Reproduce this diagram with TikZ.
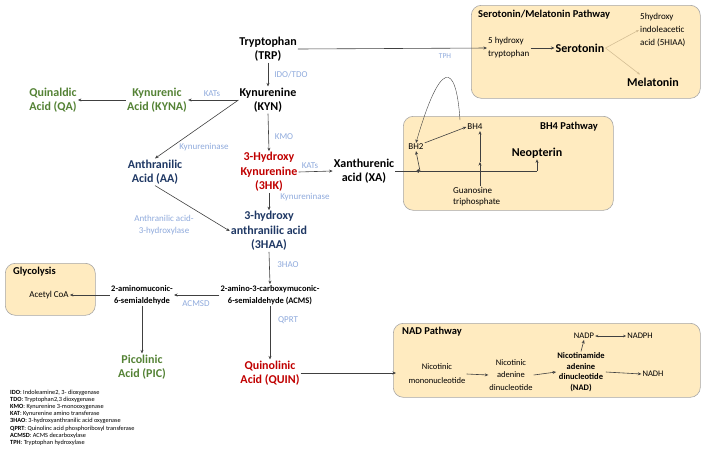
\documentclass[tikz,border=0pt]{standalone}
\usepackage{fontspec}
\setmainfont{Carlito}
\usetikzlibrary{arrows.meta,calc}
\definecolor{enzc}{HTML}{8FAADC}
\definecolor{navyc}{HTML}{1F3864}
\definecolor{redc}{HTML}{C00000}
\definecolor{greenc}{HTML}{548235}
\definecolor{boxfill}{HTML}{FFEBC0}
\definecolor{boxline}{HTML}{A6A6A6}
\definecolor{arrc}{HTML}{404040}
\definecolor{tanc}{HTML}{D5BF95}
\begin{document}
\begin{tikzpicture}[x=1pt,y=-1pt,
 every node/.style={inner sep=1pt},
 met/.style={font=\fontsize{12}{14.5}\selectfont\bfseries, align=center},
 enz/.style={text=enzc, font=\fontsize{9}{12}\selectfont, align=center},
 sm/.style={font=\fontsize{9}{13}\selectfont, align=center},
 smb/.style={font=\fontsize{8.5}{12}\selectfont\bfseries, align=center},
 ttl/.style={font=\fontsize{10.5}{12}\selectfont\bfseries, anchor=west},
 pbox/.style={draw=boxline, fill=boxfill, rounded corners=10pt, line width=0.6pt, anchor=north west, inner sep=0pt},
 arr/.style={draw=arrc, line width=0.6pt, -{Stealth[length=3.5pt,width=3pt]}},
 tarr/.style={draw=tanc, line width=0.6pt, -{Stealth[length=3pt,width=2.5pt]}},
 legend/.style={font=\fontsize{6.3}{7.2}\selectfont, align=left, anchor=north west}
]
\useasboundingbox (0,0) rectangle (705,451);

% pathway boxes
\node[pbox, minimum width=229pt, minimum height=93pt] (serbox) at (471,5) {};
\node[pbox, minimum width=210pt, minimum height=94pt] (bhbox) at (403,116) {};
\node[pbox, minimum width=90pt, minimum height=52pt] (glybox) at (5,263) {};
\node[pbox, minimum width=307pt, minimum height=74pt] (nadbox) at (393,323) {};

\node[ttl] (sertitle) at (477,15) {Serotonin/Melatonin Pathway};
\node[ttl] (bhtitle) at (539,127) {BH4 Pathway};
\node[ttl] (glytitle) at (12,272) {Glycolysis};
\node[ttl] (nadtitle) at (401,332) {NAD Pathway};

% main metabolites
\node[met] (trp) at (268,49) {Tryptophan\\(TRP)};
\node[met] (kyn) at (268,100) {Kynurenine\\(KYN)};
\node[met, text=greenc] (kyna) at (157,100) {Kynurenic\\Acid (KYNA)};
\node[met, text=greenc] (qa) at (53,100) {Quinaldic\\Acid (QA)};
\node[met, text=redc] (hk) at (269,172) {3-Hydroxy\\Kynurenine\\(3HK)};
\node[met] (xa) at (364,171) {Xanthurenic\\acid (XA)};
\node[met, text=navyc] (aa) at (155,172) {Anthranilic\\Acid (AA)};
\node[met, text=navyc] (haa) at (269,231) {3-hydroxy\\anthranilic acid\\(3HAA)};
\node[smb] (acms) at (270,295) {2-amino-3-carboxymuconic-\\6-semialdehyde (ACMS)};
\node[smb] (amu) at (142,295) {2-aminomuconic-\\6-semialdehyde};
\node[sm] (acetyl) at (49,295) {Acetyl CoA};
\node[met, text=greenc] (pic) at (142,367) {Picolinic\\Acid (PIC)};
\node[met, text=redc] (quin) at (270,373) {Quinolinic\\Acid (QUIN)};

% enzyme labels
\node[enz] (ido) at (291,75) {IDO/TDO};
\node[enz] (kats1) at (212,94) {KATs};
\node[enz] (kynase1) at (204,147) {Kynureninase};
\node[enz] (kmo) at (284,137) {KMO};
\node[enz] (kats2) at (310,166) {KATs};
\node[enz] (kynase2) at (305,197) {Kynureninase};
\node[enz] (aah) at (164,225) {Anthranilic acid-\\3-hydroxylase};
\node[enz] (hao) at (288,265) {3HAO};
\node[enz] (acmsd) at (196,304) {ACMSD};
\node[enz] (qprt) at (288,320) {QPRT};
\node[enz, font=\fontsize{7.5}{9}\selectfont] (tph) at (445,56) {TPH};

% serotonin pathway
\node[sm, align=left, anchor=west] (htp) at (487,48) {5 hydroxy\\tryptophan};
\node[met] (ser) at (580,48) {Serotonin};
\node[sm, align=left, anchor=west] (hiaa) at (639,30) {5hydroxy\\indoleacetic\\acid (5HIAA)};
\node[met] (mel) at (653,82) {Melatonin};

% BH4 pathway
\node[sm] (bh4) at (475,127) {BH4};
\node[sm] (bh2) at (416,147) {BH2};
\node[met] (neo) at (537,153) {Neopterin};
\node[sm, font=\fontsize{9}{11}\selectfont, align=left, anchor=west] (gtp) at (452,197) {Guanosine\\triphosphate};

% NAD pathway
\node[sm, font=\fontsize{8.5}{14}\selectfont] (nmn) at (437,374) {Nicotinic\\mononucleotide};
\node[sm, font=\fontsize{8.5}{12.5}\selectfont] (naad) at (511,375) {Nicotinic\\adenine\\dinucleotide};
\node[smb, font=\fontsize{8.5}{10.5}\selectfont\bfseries] (nad) at (581,372) {Nicotinamide\\adenine\\dinucleotide\\(NAD)};
\node[sm, font=\fontsize{8.5}{10}\selectfont] (nadp) at (584,336) {NADP};
\node[sm, font=\fontsize{8.5}{10}\selectfont] (nadph) at (640,336) {NADPH};
\node[sm, font=\fontsize{8.5}{10}\selectfont] (nadh) at (653,374) {NADH};

% legend
\node[legend] (leg) at (9,388.5) {\textbf{IDO}: Indoleamine2, 3- dioxygenase\\
\textbf{TDO}: Tryptophan2,3 dioxygenase\\
\textbf{KMO}: Kynurenine 3-monooxygenase\\
\textbf{KAT}: Kynurenine amino transferase\\
\textbf{3HAO}: 3-hydroxyanthranilic acid oxygenase\\
\textbf{QPRT}: Quinolinc acid phosphoribosyl transferase\\
\textbf{ACMSD}: ACMS decarboxylase\\
\textbf{TPH}: Tryptophan hydroxylase};

% connectors
\draw[arr] (trp.east) -- (htp.west);
\draw[arr] (trp.south) -- (kyn.north);
\draw[arr] (kyn.west) -- (kyna.east);
\draw[arr] (kyna.west) -- (qa.east);
\draw[arr] (kyn.west) -- (aa.north);
\draw[arr] (kyn.south) -- (hk.north);
\draw[arr] (hk.east) -- (xa.west);
\draw[arr] (hk.south) -- (haa.north);
\draw[arr] (aa.south) -- (haa.west);
\draw[arr] (haa.south) -- (acms.north);
\draw[arr] (acms.west) -- (amu.east);
\draw[arr] (amu.west) -- (acetyl.east);
\draw[arr] (amu.south) -- (pic.north);
\draw[arr] (acms.south) -- (quin.north);
\draw[arr, shorten >=-3pt] (quin.east) -- (quin.east -| nadbox.west);

% serotonin pathway connectors
\draw[arr] (htp.east) -- (ser.west);
\draw[tarr] (ser.east) -- (hiaa.west);
\draw[tarr] (ser.east) -- ($(mel.north)+(-13,-2)$);

% BH4 connectors
\coordinate (tphs) at (460,120);
\coordinate (jn) at (420,171);
\coordinate (gmid) at (480,162);
\draw[draw=arrc, line width=0.4pt, -{Stealth[length=3.5pt,width=3pt]}] (tphs) .. controls (456,60) and (440,60) .. (bh2.north);
\draw[arr] (bh2.north east) -- (bh4.west);
\draw[draw=arrc, line width=0.6pt, -{Circle[length=3.5pt]}] (xa.east) -- (jn);
\draw[arr] (jn) -- (bh2.south);
\draw[draw=arrc, line width=0.6pt] (jn) -- (jn -| neo.south);
\draw[arr] (jn -| neo.south) -- (neo.south);
\draw[arr] (gtp.north -| gmid) -- (gmid);
\draw[arr] (gmid) -- (gmid |- bh4.south);

% NAD connectors
\draw[arr] (nmn.east) -- (naad.west);
\draw[arr] (naad.east) -- (nad.west);
\draw[arr] (nad.north) -- (nadp.south);
\draw[draw=arrc, line width=0.6pt, {Stealth[length=3pt,width=2.5pt]}-{Stealth[length=3pt,width=2.5pt]}] (nadp.east) -- (nadph.west);
\draw[arr] (nad.east) -- (nadh.west);
\end{tikzpicture}
\end{document}
